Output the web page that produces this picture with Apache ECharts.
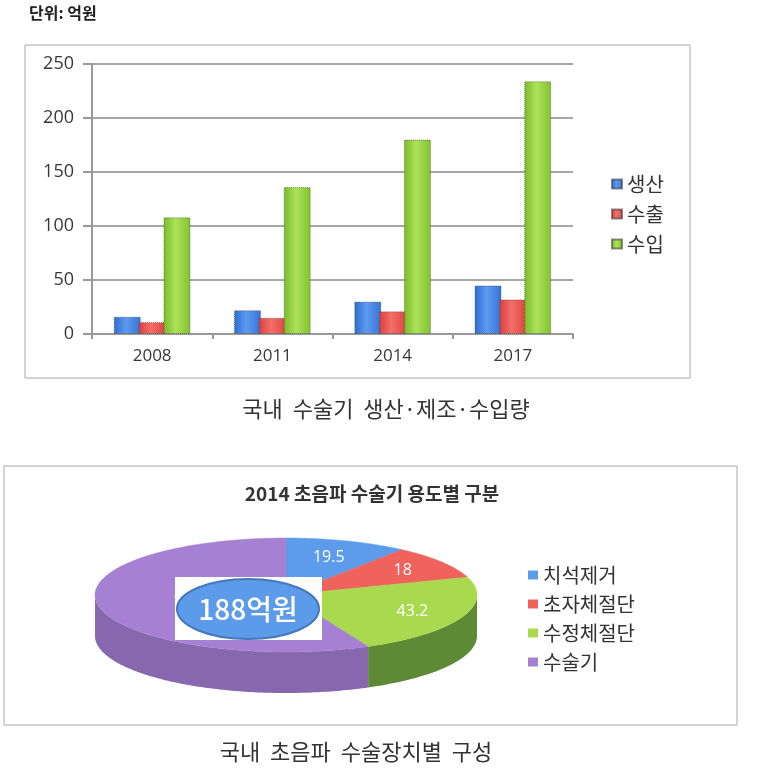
<!DOCTYPE html>
<html><head><meta charset="utf-8">
<script src="https://cdn.jsdelivr.net/npm/echarts@6/dist/echarts.min.js"></script>
<style>html,body{margin:0;padding:0;background:#fff}#c{width:772px;height:768px}</style>
</head><body><div id="c"></div>
<script>
// ---- data ----
const unitText = '단위: 억원';
const years = ['2008', '2011', '2014', '2017'];
const barNames = ['생산', '수출', '수입'];
const production = [16, 22, 30, 45];
const exportVals = [11, 15, 21, 32];
const importVals = [108, 136, 180, 234];
const yMin = 0, yMax = 250, yStep = 50;
const caption1 = '국내  수술기  생산·제조·수입량';

const pieTitle = '2014 초음파 수술기 용도별 구분';
const pieNames = ['치석제거', '초자체절단', '수정체절단', '수술기'];
const pieValues = [19.5, 18, 43.2, 107.3];
const totalUnit = '억원';
const caption2 = '국내  초음파  수술장치별  구성';

// ---- styling ----
const FONT_NUM = '"Open Sans", "Noto Sans CJK KR", sans-serif';
const FONT_KR = '"Noto Sans CJK KR", "Noto Sans", sans-serif';
const barColors = [
  ['#2e6bd0', '#5e9af0', '#3674d8'],
  ['#d8403d', '#f56e68', '#db4642'],
  ['#78bb28', '#aee25a', '#80c22e']
];
const barLegendColors = ['#3a7de0', '#e8504e', '#98d244'];
const pieTop = ['#5d9ceb', '#f0625c', '#a9d94e', '#a680d2'];
const pieSide = ['#3f74c0', '#c04844', '#5e8a36', '#8767ad'];
const pieLabelR = [0.7, 0.75, 0.72, 0.5];
const PIE = { cx: 286, cy: 595, rx: 191, ry: 57, h: 41 };

function grad(c) {
  return new echarts.graphic.LinearGradient(0, 0, 1, 0, [
    { offset: 0, color: c[0] }, { offset: 0.45, color: c[1] }, { offset: 1, color: c[2] }
  ]);
}

const pieTotal = pieValues.reduce((a, b) => a + b, 0);
const pieStart = [];
{ let acc = 0; pieValues.forEach(v => { pieStart.push(acc); acc += v; }); }

function ept(deg, dy) {
  const r = deg * Math.PI / 180;
  return [PIE.cx + PIE.rx * Math.sin(r), PIE.cy - PIE.ry * Math.cos(r) + (dy || 0)];
}
function arc(a, b, dy) {
  const pts = [];
  const n = Math.max(2, Math.ceil(Math.abs(b - a)));
  for (let k = 0; k <= n; k++) pts.push(ept(a + (b - a) * k / n, dy));
  return pts;
}

function renderPie(params, api) {
  const i = params.dataIndex;
  const v = api.value(0);
  const a0 = pieStart[i] / pieTotal * 360;
  const a1 = (pieStart[i] + v) / pieTotal * 360;
  const children = [];
  const s = Math.max(a0, 90), e = Math.min(a1, 270);
  if (s < e) {
    const pts = arc(s, e, 0).concat(arc(e, s, PIE.h));
    children.push({ type: 'polygon', z2: 1, shape: { points: pts }, style: { fill: pieSide[i] } });
  }
  const top = [[PIE.cx, PIE.cy]].concat(arc(a0, a1, 0));
  children.push({ type: 'polygon', z2: 10, shape: { points: top }, style: { fill: pieTop[i], stroke: pieTop[i], lineWidth: 0.5 } });
  const mid = (a0 + a1) / 2 * Math.PI / 180;
  const lr = pieLabelR[i];
  children.push({
    type: 'text', z2: 20,
    style: {
      text: String(v), x: PIE.cx + lr * PIE.rx * Math.sin(mid), y: PIE.cy - lr * PIE.ry * Math.cos(mid),
      fill: '#fff', font: '16px ' + FONT_NUM, align: 'center', verticalAlign: 'middle'
    }
  });
  return { type: 'group', children };
}

const chart = echarts.init(document.getElementById('c'));
const barData = [production, exportVals, importVals];

chart.setOption({
  animation: false,
  backgroundColor: '#fff',
  title: {
    text: pieTitle, left: 367, top: 479, textAlign: 'center',
    textStyle: { fontFamily: FONT_KR, fontSize: 19, fontWeight: 'bold', color: '#333' }
  },
  legend: [
    {
      data: barNames, orient: 'vertical', left: 606, top: 169,
      icon: 'rect', itemWidth: 10, itemHeight: 9, itemGap: 10,
      textStyle: { fontFamily: FONT_KR, fontSize: 20, color: '#333' }
    },
    {
      data: pieNames, orient: 'vertical', left: 523, top: 560,
      icon: 'rect', itemWidth: 10, itemHeight: 9, itemGap: 9,
      textStyle: { fontFamily: FONT_KR, fontSize: 20, color: '#333' }
    }
  ],
  grid: { left: 92, right: 199, top: 64, bottom: 434, containLabel: false },
  xAxis: {
    type: 'category', data: years,
    axisLine: { lineStyle: { color: '#999', width: 2 } },
    axisTick: { show: true, length: 5, lineStyle: { color: '#999', width: 2 } },
    axisLabel: { margin: 14, fontFamily: FONT_NUM, fontSize: 17, color: '#383838' }
  },
  yAxis: {
    type: 'value', min: yMin, max: yMax, interval: yStep,
    axisLine: { show: true, lineStyle: { color: '#999', width: 2 } },
    axisTick: { show: true, length: 9, lineStyle: { color: '#999', width: 2 } },
    splitLine: { lineStyle: { color: '#a6a6a6', width: 2 } },
    axisLabel: { margin: 18, fontFamily: FONT_NUM, fontSize: 18, color: '#383838' }
  },
  series: barNames.map((n, k) => ({
    name: n, type: 'bar', data: barData[k],
    barWidth: 27, barGap: '-8%', barCategoryGap: '30%',
    color: barLegendColors[k],
    itemStyle: { color: grad(barColors[k]), borderColor: 'rgba(50,50,50,0.55)', borderWidth: 1, borderType: 'dotted' }
  })).concat([
    {
      type: 'custom', coordinateSystem: 'none', name: 'pie3d',
      data: pieValues.map((v, i) => ({ name: pieNames[i], value: [v] })),
      renderItem: renderPie, silent: true, z: 3
    },
    {
      type: 'pie', radius: [0, 0], center: [PIE.cx, PIE.cy], silent: true,
      label: { show: false }, labelLine: { show: false },
      data: pieNames.map((n, i) => ({ name: n, value: pieValues[i], itemStyle: { color: pieTop[i] } }))
    }
  ]),
  graphic: [
    { type: 'rect', z: -1, shape: { x: 25, y: 45, width: 665, height: 333 }, style: { fill: 'none', stroke: '#a8a8a8', lineWidth: 1 } },
    { type: 'rect', z: -1, shape: { x: 4, y: 466, width: 733, height: 259 }, style: { fill: 'none', stroke: '#a8a8a8', lineWidth: 1 } },
    { type: 'text', left: 29, top: 5, style: { text: unitText, font: 'bold 16px ' + FONT_KR, fill: '#222' } },
    { type: 'text', x: 386, y: 409, style: { text: caption1, font: '22px ' + FONT_KR, fill: '#333', align: 'center', verticalAlign: 'middle' } },
    { type: 'text', x: 356, y: 752, style: { text: caption2, font: '22px ' + FONT_KR, fill: '#333', align: 'center', verticalAlign: 'middle' } },
    { type: 'rect', z: 100, shape: { x: 175, y: 577, width: 147, height: 63 }, style: { fill: '#fff' } },
    { type: 'ellipse', z: 101, shape: { cx: 248, cy: 609, rx: 71, ry: 30 }, style: { fill: '#5b9bea', stroke: '#4478b8', lineWidth: 2 } },
    { type: 'text', z: 102, x: 248, y: 609, style: { text: Math.round(pieTotal) + totalUnit, font: '500 28px "Noto Sans CJK KR", sans-serif', fill: '#fff', align: 'center', verticalAlign: 'middle' } }
  ]
});
</script></body></html>
